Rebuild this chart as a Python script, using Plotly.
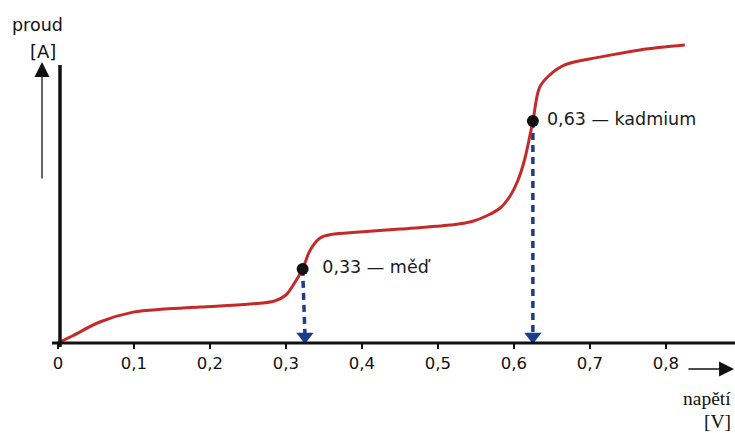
import plotly.graph_objects as go

# data
napeti = [0.0, 0.02, 0.055, 0.099, 0.14, 0.187, 0.253, 0.285, 0.300, 0.310, 0.322, 0.332,
          0.345, 0.360, 0.397, 0.450, 0.516, 0.545, 0.565, 0.582, 0.595, 0.605, 0.614,
          0.625, 0.634, 0.647, 0.667, 0.713, 0.766, 0.825]
proud = [0.0, 0.025, 0.07, 0.103, 0.113, 0.12, 0.13, 0.14, 0.16, 0.195, 0.247, 0.31,
         0.35, 0.362, 0.37, 0.38, 0.393, 0.405, 0.425, 0.45, 0.49, 0.54, 0.61,
         0.74, 0.853, 0.893, 0.927, 0.953, 0.977, 0.993]

body_x = [0.322, 0.625]
body_y = [0.247, 0.74]
sipka_x = [0.325, 0.625]
popisky = ["\u00a0\u00a00,33 — měď", "\u00a00,63 — kadmium"]

tick_vals = [0, 0.1, 0.2, 0.3, 0.4, 0.5, 0.6, 0.7, 0.8]
tick_text = ["0", "0,1", "0,2", "0,3", "0,4", "0,5", "0,6", "0,7", "0,8"]

W, H = 735, 433
# plocha grafu v pixelech: x 50..735, y 40..343
L, R, T, B = 50, 735, 40, 343
def xp(px):
    return (px - L) / (R - L)
def yp(py):
    return (B - py) / (B - T)

modra = "#1d3c8c"
cerna = "#111111"
pismo = "DejaVu Sans"
fig = go.Figure()

# svisle carkovane cary se sipkami
for bx, by, sx in zip(body_x, body_y, sipka_x):
    fig.add_trace(go.Scatter(x=[bx, sx], y=[by, 0.03], mode="lines",
                             line=dict(color=modra, width=3.5, dash="7px,5px"),
                             hoverinfo="skip"))
fig.add_trace(go.Scatter(x=sipka_x, y=[0.022, 0.022], mode="markers",
                         marker=dict(symbol="triangle-down", size=15, color=modra),
                         cliponaxis=False, hoverinfo="skip"))

# krivka
fig.add_trace(go.Scatter(x=napeti, y=proud, mode="lines", line_shape="spline",
                         line=dict(color="#c42a2a", width=3)))

# body
fig.add_trace(go.Scatter(x=body_x, y=body_y, mode="markers+text", text=popisky,
                         textposition="middle right",
                         textfont=dict(size=17.5, color="#1a1a1a", family=pismo),
                         marker=dict(size=12, color=cerna), cliponaxis=False))

# osy
fig.add_shape(type="line", xref="paper", yref="paper", x0=xp(52), x1=xp(735),
              y0=yp(343), y1=yp(343), line=dict(color=cerna, width=3))
fig.add_shape(type="line", xref="paper", yref="paper", x0=xp(60), x1=xp(60),
              y0=yp(347), y1=yp(65), line=dict(color=cerna, width=3.5))

# sipky u popisku os
fig.add_annotation(x=xp(42), y=yp(62), xref="paper", yref="paper", ax=0, ay=118,
                   text="", showarrow=True, arrowhead=2, arrowsize=2.3,
                   arrowwidth=1.3, arrowcolor=cerna)
fig.add_annotation(x=xp(734), y=yp(369), xref="paper", yref="paper", ax=-47, ay=0,
                   text="", showarrow=True, arrowhead=2, arrowsize=2.3,
                   arrowwidth=1.3, arrowcolor=cerna)

for txt, px, py, anchor, size, fam in [("proud", 37, 25, "center", 17.5, pismo),
                                       ("[A]", 43, 51, "center", 18, pismo),
                                       ("napětí", 733, 398, "right", 19.5, "Liberation Serif"),
                                       ("[V]", 733, 421, "right", 19.5, "Liberation Serif")]:
    fig.add_annotation(x=xp(px), y=yp(py), xref="paper", yref="paper", text=txt,
                       showarrow=False, xanchor=anchor, yanchor="middle",
                       font=dict(size=size, color=cerna, family=fam))

fig.update_layout(
    width=W, height=H,
    margin=dict(l=L, r=W - R, t=T, b=H - B),
    paper_bgcolor="white", plot_bgcolor="white",
    showlegend=False,
    xaxis=dict(range=[-0.0105, 0.891], tickvals=tick_vals, ticktext=tick_text,
               ticks="outside", ticklen=5, tickwidth=1.5, tickcolor=cerna,
               showgrid=False, zeroline=False, showline=False,
               tickfont=dict(size=16.5, color=cerna, family=pismo)),
    yaxis=dict(range=[0, 1.01], showticklabels=False, ticks="",
               showgrid=False, zeroline=False, showline=False),
)

# bez okraje stranky, at graf sedi presne do okna
fig.write_html("out.html", config={"displayModeBar": False},
               post_script="document.body.style.margin='0';document.body.style.overflow='hidden';")
